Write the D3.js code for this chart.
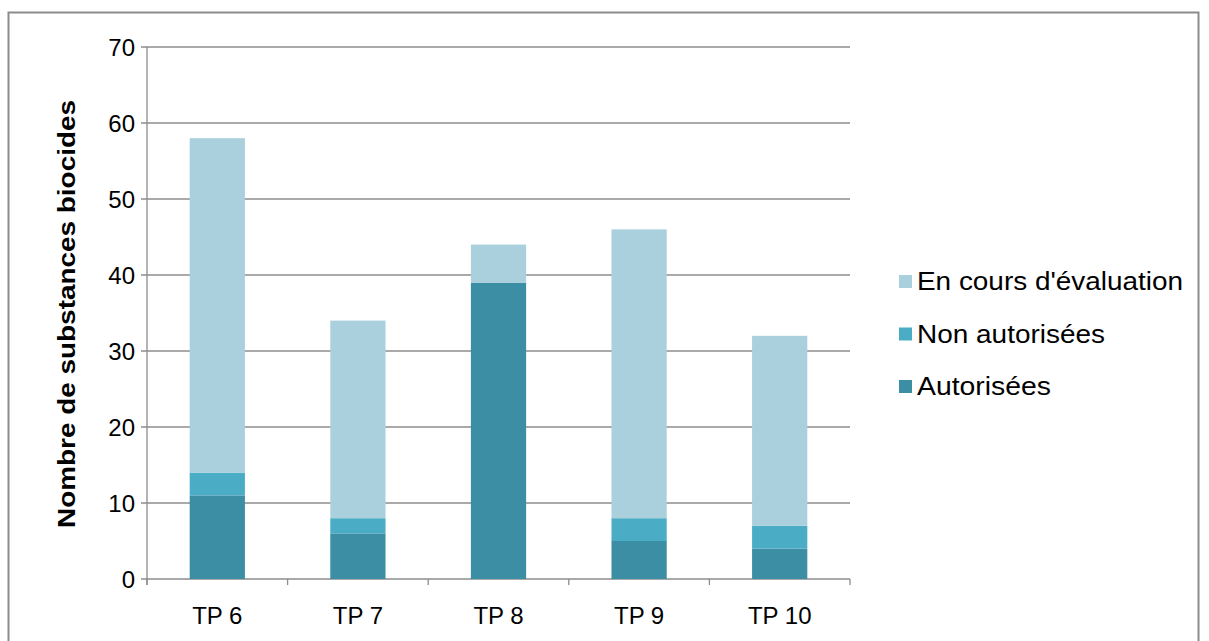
<!DOCTYPE html>
<html><head><meta charset="utf-8">
<script src="https://cdn.jsdelivr.net/npm/d3@7"></script>
<style>body{margin:0;background:#fff}</style>
</head><body>
<svg id="c" width="1209" height="641"></svg>
<script>
const categories = ["TP 6","TP 7","TP 8","TP 9","TP 10"];
const autorisees = [11,6,39,5,4];
const nonAutorisees = [3,2,0,3,3];
const enCours = [44,26,5,38,25];
const seriesNames = ["Autorisées","Non autorisées","En cours d'évaluation"];
const yTicks = [0,10,20,30,40,50,60,70];
const colors = ["#3c8ea5","#4bacc6","#aad0dd"];

const svg = d3.select("#c");
const font = "Liberation Sans, Arial, sans-serif";
svg.append("rect").attr("x",8.5).attr("y",12.5).attr("width",1190).attr("height",640)
  .attr("fill","none").attr("stroke","#8c8c8c").attr("stroke-width",2);

const L=147,R=850,T=47,B=579;
const x = d3.scaleBand().domain(categories).range([L,R]).paddingInner(0.6).paddingOuter(0.3);
const y = d3.scaleLinear().domain([0,70]).range([B,T]);

const g = svg.append("g");
g.selectAll("line.grid").data(yTicks).join("line")
  .attr("x1",L-6).attr("x2",R).attr("y1",d=>y(d)).attr("y2",d=>y(d))
  .attr("stroke","#8c8c8c").attr("stroke-width",1.3);
g.append("line").attr("x1",L).attr("x2",L).attr("y1",T).attr("y2",B+6).attr("stroke","#8c8c8c").attr("stroke-width",1.3);
const step = (R-L)/categories.length;
d3.range(categories.length+1).forEach(i=>{
  g.append("line").attr("x1",L+i*step).attr("x2",L+i*step).attr("y1",B).attr("y2",B+6).attr("stroke","#8c8c8c").attr("stroke-width",1.3);
});
g.selectAll("text.yt").data(yTicks).join("text")
  .attr("x",L-12).attr("y",d=>y(d)).attr("dy","0.36em").attr("text-anchor","end")
  .attr("font-family",font).attr("font-size",24).text(d=>d);
g.selectAll("text.xt").data(categories).join("text")
  .attr("x",d=>x(d)+x.bandwidth()/2).attr("y",B+45).attr("text-anchor","middle")
  .attr("font-family",font).attr("font-size",24).text(d=>d);
svg.append("text").attr("transform",`translate(75,${(T+B)/2+1}) rotate(-90)`)
  .attr("text-anchor","middle").attr("font-family",font).attr("font-size",24).attr("font-weight","bold")
  .attr("textLength",428).attr("lengthAdjust","spacingAndGlyphs")
  .text("Nombre de substances biocides");

const rows = categories.map((c,i)=>({cat:c,"Autorisées":autorisees[i],"Non autorisées":nonAutorisees[i],"En cours d'évaluation":enCours[i]}));
const stack = d3.stack().keys(seriesNames)(rows);
stack.forEach((s,si)=>{
  g.selectAll(null).data(s).join("rect")
   .attr("x",d=>x(d.data.cat)+0.5).attr("width",x.bandwidth()-1)
   .attr("y",d=>y(d[1])).attr("height",d=>y(d[0])-y(d[1]))
   .attr("fill",colors[si]);
});

const leg = [["En cours d'évaluation",colors[2],266],["Non autorisées",colors[1],188],["Autorisées",colors[0],134]];
leg.forEach((l,i)=>{
  const cy = 281 + i*52.5;
  svg.append("rect").attr("x",899).attr("y",cy-6).attr("width",13).attr("height",13).attr("fill",l[1]);
  svg.append("text").attr("x",917).attr("y",cy).attr("dy","0.36em").attr("font-family",font).attr("font-size",25.5)
    .attr("textLength",l[2]).attr("lengthAdjust","spacingAndGlyphs").text(l[0]);
});
</script>
</body></html>
